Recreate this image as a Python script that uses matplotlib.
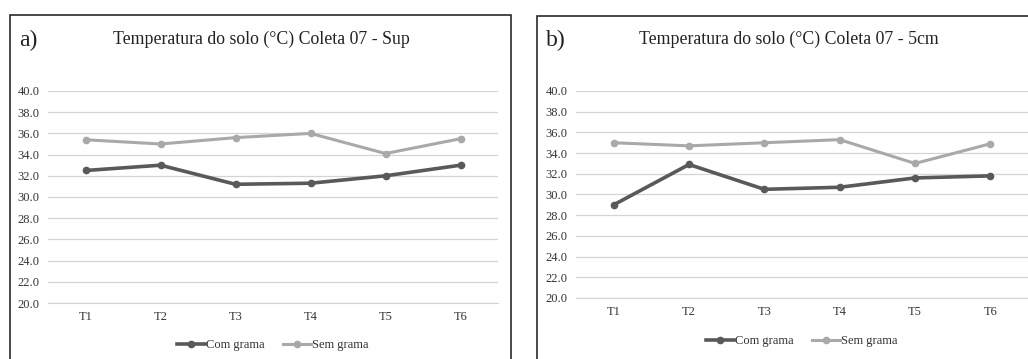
import matplotlib.pyplot as plt
from matplotlib.patches import Rectangle

plt.rcParams['font.family'] = ['Liberation Serif', 'DejaVu Serif']

categorias = ['T1', 'T2', 'T3', 'T4', 'T5', 'T6']

# a) superficie
com_sup = [32.5, 33.0, 31.2, 31.3, 32.0, 33.0]
sem_sup = [35.4, 35.0, 35.6, 36.0, 34.1, 35.5]

# b) 5 cm
com_5cm = [29.0, 32.9, 30.5, 30.7, 31.6, 31.8]
sem_5cm = [35.0, 34.7, 35.0, 35.3, 33.0, 34.9]

yticks = [20, 22, 24, 26, 28, 30, 32, 34, 36, 38, 40]

COR_COM = '#595959'
COR_SEM = '#a9a9a9'

W, H = 1028, 359
fig = plt.figure(figsize=(W / 100, H / 100), dpi=100)


def fx(px):
    return px / W


def fy(py):
    return 1 - py / H


def painel(box, ax_box, letra, titulo, com, sem, leg_y, tit_x):
    # moldura do grafico
    x0, y0, x1 = box
    fig.patches.append(Rectangle((fx(x0), -0.02), fx(x1) - fx(x0), fy(y0) + 0.02,
                                 transform=fig.transFigure, fill=False,
                                 edgecolor='#2a2a2a', linewidth=1.2))
    l, t, r, b = ax_box
    ax = fig.add_axes([fx(l), fy(b), fx(r) - fx(l), fy(t) - fy(b)])
    x = range(len(categorias))
    ax.plot(x, com, color=COR_COM, linewidth=2.6, marker='o', markersize=4.5,
            label='Com grama', zorder=3)
    ax.plot(x, sem, color=COR_SEM, linewidth=2.2, marker='o', markersize=4.5,
            label='Sem grama', zorder=3)
    ax.set_xlim(-0.5, len(categorias) - 0.5)
    ax.set_ylim(20, 40)
    ax.set_yticks(yticks)
    ax.set_yticklabels(['%.1f' % v for v in yticks], fontsize=9)
    ax.set_xticks(list(x))
    ax.set_xticklabels(categorias, fontsize=9)
    ax.tick_params(length=0, pad=6, colors='#333333')
    ax.grid(axis='y', color='#d4d4d4', linewidth=0.9)
    ax.set_axisbelow(True)
    for s in ax.spines.values():
        s.set_visible(False)
    ax.spines['bottom'].set_visible(True)
    ax.spines['bottom'].set_color('#d4d4d4')
    # letra e titulo
    fig.text(fx(x0 + 9), fy(40), letra, fontsize=17, va='center', ha='left', color='#222222')
    fig.text(fx(tit_x), fy(39), titulo, fontsize=12.8, va='center', ha='center',
             color='#222222')
    ax.legend(loc='center', bbox_to_anchor=(0.5, (fy(leg_y) - fy(b)) / (fy(t) - fy(b))),
              ncol=2, frameon=False, fontsize=9, handlelength=2.2,
              handletextpad=0.1, columnspacing=1.5, markerscale=1.0,
              labelcolor='#333333')
    return ax


painel((10, 15, 511), (48, 91, 498, 303), 'a)',
       'Temperatura do solo (°C) Coleta 07 - Sup', com_sup, sem_sup, 345, 261)
painel((537, 16, 1040), (576, 91, 1028, 298), 'b)',
       'Temperatura do solo (°C) Coleta 07 - 5cm', com_5cm, sem_5cm, 341, 789)

fig.savefig('out.png', dpi=100)
